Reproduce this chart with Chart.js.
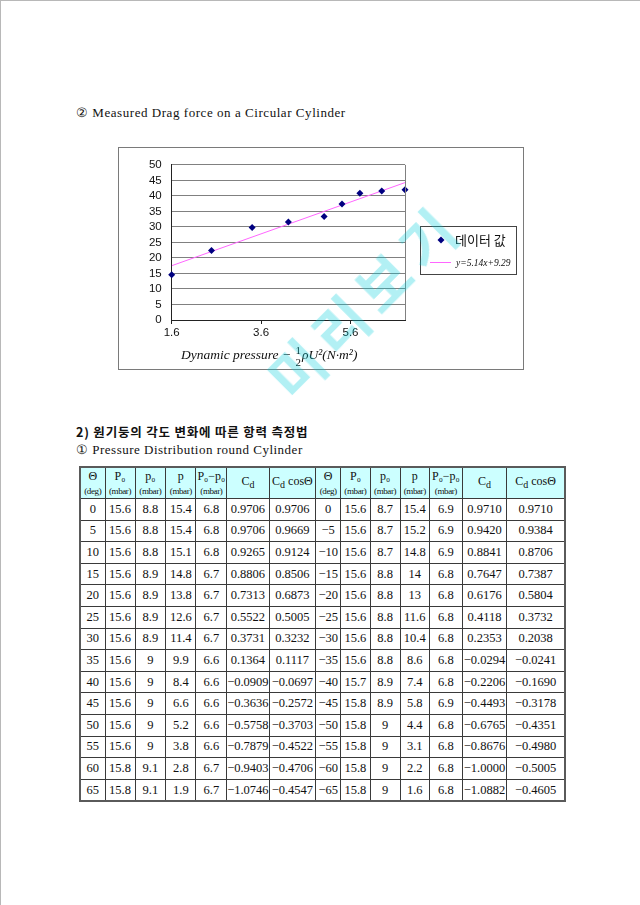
<!DOCTYPE html>
<html>
<head>
<meta charset="utf-8">
<script src="https://cdn.jsdelivr.net/npm/chart.js@4.4.1/dist/chart.umd.min.js"></script>
<style>
  html, body { margin: 0; padding: 0; background: #fff; }
  #page {
    position: relative; width: 640px; height: 905px; overflow: hidden;
    border-top: 1px solid #b8b8b8; border-left: 1px solid #b8b8b8; box-sizing: border-box;
    font-family: "Liberation Serif", "DejaVu Serif", serif; color: #111;
  }
  .txt { position: absolute; white-space: nowrap; font-size: 13px; }
  .kr { font-family: "Noto Sans CJK KR", sans-serif; }
  #frame { position: absolute; left: 117px; top: 146px; width: 404px; height: 221px; border: 1px solid #7a7a7a; }
  #xtitle { position: absolute; left: 180px; top: 343px; font-style: italic; font-size: 13.5px; white-space: nowrap; }
  .frac { display: inline-block; vertical-align: middle; text-align: center; font-size: 11px; line-height: 12px; font-style: normal; margin: 0 1px; }
  #wm {
    position: absolute; left: 362px; top: 298px; transform: translate(-50%, -50%) rotate(-45deg);
    font-family: "Noto Sans CJK KR", sans-serif; font-size: 57px; font-weight: bold; letter-spacing: 9px;
    color: rgba(0, 205, 220, 0.30); white-space: nowrap; pointer-events: none;
  }
  table { position: absolute; left: 78px; top: 465px; border-collapse: collapse; table-layout: fixed;
    border: 2px solid #5a5a5a; font-size: 12.5px; }
  td, th { border: 1px solid #3a3a3a; text-align: center; padding: 0; overflow: hidden; white-space: nowrap; }
  th { background: #ccffff; font-weight: normal; font-size: 12px; line-height: 14px; height: 30px; }
  th small { font-size: 9px; letter-spacing: -0.4px; }
  td { height: 20.6px; }
</style>
</head>
<body>
<div id="page">
  <div class="txt" style="left:75px; top:104px; letter-spacing:0.55px;">② Measured Drag force on a Circular Cylinder</div>

  <div id="frame"><canvas id="dragChart" width="404" height="221"></canvas></div>
  <div id="xtitle">Dynamic pressure − <span class="frac">1<br>2</span>ρU²(N·m²)</div>

  <div class="txt kr" style="left:75px; top:421px; font-weight:bold; font-size:12.5px; letter-spacing:0.8px;">2) 원기둥의 각도 변화에 따른 항력 측정법</div>
  <div class="txt" style="left:75px; top:441px; letter-spacing:0.5px;">① Pressure Distribution round Cylinder</div>

  <table id="tbl"></table>

  <div id="wm">미리보기</div>
</div>

<script>
// 그래프 데이터 (동압 vs 항력)
const dynPressure = [1.6, 2.49, 3.4, 4.21, 5.01, 5.41, 5.81, 6.3, 6.82];
const dragForce = [14.6, 22.4, 29.8, 31.6, 33.4, 37.4, 40.9, 41.6, 42.0];
const trendX = [1.6, 6.82];
const trendY = [17.5, 44.3];
const xTicks = [1.6, 3.6, 5.6];
const seriesLabel = '데이터 값';
const trendLabel = 'y=5.14x+9.29';

// 표 데이터
const headers = [['Θ', '(deg)'], ['P₀', '(mbar)'], ['p₀', '(mbar)'], ['p', '(mbar)'], ['P₀−p₀', '(mbar)'], ['C<sub>d</sub>', ''], ['C<sub>d</sub> cosΘ', '']];
const thetaPos = [0, 5, 10, 15, 20, 25, 30, 35, 40, 45, 50, 55, 60, 65];
const P0Pos = [15.6, 15.6, 15.6, 15.6, 15.6, 15.6, 15.6, 15.6, 15.6, 15.6, 15.6, 15.6, 15.8, 15.8];
const p0Pos = [8.8, 8.8, 8.8, 8.9, 8.9, 8.9, 8.9, 9, 9, 9, 9, 9, 9.1, 9.1];
const pPos = [15.4, 15.4, 15.1, 14.8, 13.8, 12.6, 11.4, 9.9, 8.4, 6.6, 5.2, 3.8, 2.8, 1.9];
const dPos = [6.8, 6.8, 6.8, 6.7, 6.7, 6.7, 6.7, 6.6, 6.6, 6.6, 6.6, 6.6, 6.7, 6.7];
const cdPos = ['0.9706', '0.9706', '0.9265', '0.8806', '0.7313', '0.5522', '0.3731', '0.1364', '-0.0909', '-0.3636', '-0.5758', '-0.7879', '-0.9403', '-1.0746'];
const cdcPos = ['0.9706', '0.9669', '0.9124', '0.8506', '0.6873', '0.5005', '0.3232', '0.1117', '-0.0697', '-0.2572', '-0.3703', '-0.4522', '-0.4706', '-0.4547'];
const thetaNeg = [0, -5, -10, -15, -20, -25, -30, -35, -40, -45, -50, -55, -60, -65];
const P0Neg = [15.6, 15.6, 15.6, 15.6, 15.6, 15.6, 15.6, 15.6, 15.7, 15.8, 15.8, 15.8, 15.8, 15.8];
const p0Neg = [8.7, 8.7, 8.7, 8.8, 8.8, 8.8, 8.8, 8.8, 8.9, 8.9, 9, 9, 9, 9];
const pNeg = [15.4, 15.2, 14.8, 14, 13, 11.6, 10.4, 8.6, 7.4, 5.8, 4.4, 3.1, 2.2, 1.6];
const dNeg = [6.9, 6.9, 6.9, 6.8, 6.8, 6.8, 6.8, 6.8, 6.8, 6.9, 6.8, 6.8, 6.8, 6.8];
const cdNeg = ['0.9710', '0.9420', '0.8841', '0.7647', '0.6176', '0.4118', '0.2353', '-0.0294', '-0.2206', '-0.4493', '-0.6765', '-0.8676', '-1.0000', '-1.0882'];
const cdcNeg = ['0.9710', '0.9384', '0.8706', '0.7387', '0.5804', '0.3732', '0.2038', '-0.0241', '-0.1690', '-0.3178', '-0.4351', '-0.4980', '-0.5005', '-0.4605'];

const colWidths = [25, 30, 30.7, 30.3, 30.7, 40.7, 46.6, 25, 29.4, 30, 29.3, 33, 44.3, 58.4];

// 표 만들기
function buildTable() {
    const tbl = document.getElementById('tbl');
    let html = '<colgroup>' + colWidths.map(w => `<col style="width:${w}px">`).join('') + '</colgroup>';
    const hdr = headers.concat(headers).map(h => h[1] ? `<th>${h[0]}<br><small>${h[1]}</small></th>` : `<th>${h[0]}</th>`);
    html += '<tr>' + hdr.join('') + '</tr>';
    const neg = v => String(v).replace('-', '−');
    thetaPos.forEach((t, i) => {
        const cells = [t, P0Pos[i], p0Pos[i], pPos[i], dPos[i], cdPos[i], cdcPos[i],
                       thetaNeg[i], P0Neg[i], p0Neg[i], pNeg[i], dNeg[i], cdNeg[i], cdcNeg[i]];
        html += '<tr>' + cells.map(c => `<td>${neg(c)}</td>`).join('') + '</tr>';
    });
    tbl.innerHTML = html;
}
buildTable();

// 플롯 영역 오른쪽 테두리 + 범례
const framePlugin = {
    id: 'framePlugin',
    afterDraw(chart) {
        const { ctx, chartArea } = chart;
        ctx.save();
        ctx.strokeStyle = '#808080';
        ctx.lineWidth = 1;
        ctx.beginPath();
        ctx.moveTo(Math.round(chartArea.right) + 0.5, chartArea.top);
        ctx.lineTo(Math.round(chartArea.right) + 0.5, chartArea.bottom);
        ctx.stroke();

        // 범례 상자
        const lx = 301.5, ly = 78.5, lw = 96, lh = 48;
        ctx.fillStyle = '#fff';
        ctx.fillRect(lx, ly, lw, lh);
        ctx.strokeStyle = '#444';
        ctx.strokeRect(lx, ly, lw, lh);

        // 데이터 마커
        ctx.fillStyle = '#000080';
        ctx.beginPath();
        ctx.moveTo(322, 88.5); ctx.lineTo(325.5, 92); ctx.lineTo(322, 95.5); ctx.lineTo(318.5, 92);
        ctx.closePath(); ctx.fill();
        ctx.fillStyle = '#111';
        ctx.font = '13px "Noto Sans CJK KR", sans-serif';
        ctx.textBaseline = 'middle';
        ctx.fillText(seriesLabel, 336, 92);

        // 추세선
        ctx.strokeStyle = '#ff66ff';
        ctx.beginPath();
        ctx.moveTo(311, 114.5); ctx.lineTo(332, 114.5);
        ctx.stroke();
        ctx.fillStyle = '#111';
        ctx.font = 'italic 9.5px "Liberation Serif", serif';
        ctx.fillText(trendLabel, 337, 115);
        ctx.restore();
    }
};

const axisFont = { family: '"Liberation Sans", Arial, sans-serif', size: 11.5 };

new Chart(document.getElementById('dragChart'), {
    type: 'scatter',
    data: {
        datasets: [{
            label: seriesLabel,
            data: dynPressure.map((x, i) => ({ x: x, y: dragForce[i] })),
            pointStyle: 'rectRot',
            pointRadius: 3.5,
            backgroundColor: '#000080',
            borderColor: '#000080',
            borderWidth: 0,
            clip: false
        }, {
            label: trendLabel,
            data: trendX.map((x, i) => ({ x: x, y: trendY[i] })),
            showLine: true,
            pointRadius: 0,
            borderColor: '#ff66ff',
            borderWidth: 1
        }]
    },
    options: {
        responsive: false,
        animation: false,
        layout: { padding: { left: 0, top: 16, right: 118, bottom: 0 } },
        plugins: {
            legend: { display: false },
            tooltip: { enabled: false }
        },
        scales: {
            x: {
                type: 'linear',
                min: 1.6,
                max: 6.82,
                afterBuildTicks: s => { s.ticks = xTicks.map(v => ({ value: v })); },
                afterFit: s => { s.height = 49; },
                ticks: {
                    font: axisFont,
                    color: '#111',
                    padding: 2,
                    callback: v => v.toFixed(1)
                },
                grid: { drawOnChartArea: false, tickLength: 4, color: '#222' },
                border: { color: '#222' }
            },
            y: {
                min: 0,
                max: 50,
                afterFit: s => { s.width = 52.7; },
                ticks: {
                    stepSize: 5,
                    autoSkip: false,
                    font: axisFont,
                    color: '#111',
                    padding: 10
                },
                grid: { color: '#808080', drawTicks: false },
                border: { color: '#222' }
            }
        }
    },
    plugins: [framePlugin]
});
</script>
</body>
</html>
